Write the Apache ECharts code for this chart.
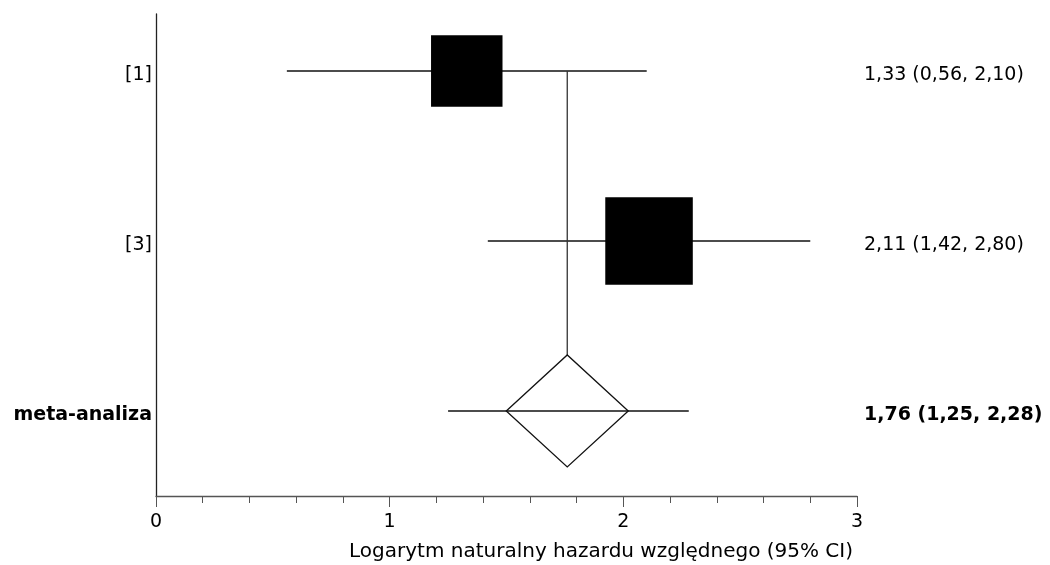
<!DOCTYPE html>
<html>
<head>
<meta charset="utf-8">
<script src="https://cdn.jsdelivr.net/npm/echarts@6/dist/echarts.min.js"></script>
<style>
  html, body { margin: 0; padding: 0; background: #fff; }
  #chart { width: 1050px; height: 565px; }
</style>
</head>
<body>
<div id="chart"></div>
<script>
// Forest plot: log hazard ratio per study and pooled estimate
const studies   = ['[1]', '[3]', 'meta-analiza'];
const estimates = [1.33, 2.11, 1.76];
const lowerCI   = [0.56, 1.42, 1.25];
const upperCI   = [2.10, 2.80, 2.28];
const weights   = [40, 60, null];          // study weights (%), null = pooled row
const xTickValues = [0, 1, 2, 3];
const axisTitle = 'Logarytm naturalny hazardu względnego (95% CI)';

const FONT = 'DejaVu Sans';
const FONT_SIZE = 19;
const LINE = '#111';
const AXIS = '#555';
const nRows = studies.length;
const yMax = nRows - 0.5 + 0.335;

function fmt(v) { return v.toFixed(2).replace('.', ','); }

const rows = studies.map((s, i) => [estimates[i], lowerCI[i], upperCI[i], i]);

function renderRow(params, api) {
  const i = api.value(3);
  const est = api.value(0), lo = api.value(1), hi = api.value(2);
  const yv = nRows - i - 0.5;
  const c = api.coord([est, yv]);
  const pLo = api.coord([lo, yv]);
  const pHi = api.coord([hi, yv]);
  const left = api.coord([xTickValues[0], yv])[0];
  const right = api.coord([xTickValues[xTickValues.length - 1], yv])[0];
  const pooled = weights[i] == null;
  const children = [];
  const ciLine = {
    type: 'line',
    shape: { x1: pLo[0], y1: c[1], x2: pHi[0], y2: c[1] },
    style: { stroke: LINE, lineWidth: 1.4 }
  };
  if (pooled) {
    const hw = 61, hh = 56;
    // vertical reference line from the first study row down to the diamond
    const top = api.coord([est, nRows - 0.5]);
    children.push({
      type: 'line',
      shape: { x1: c[0], y1: top[1], x2: c[0], y2: c[1] - hh },
      style: { stroke: '#333', lineWidth: 1.3 }
    });
    children.push({
      type: 'polygon',
      shape: { points: [[c[0] - hw, c[1]], [c[0], c[1] - hh], [c[0] + hw, c[1]], [c[0], c[1] + hh]] },
      style: { fill: '#fff', stroke: LINE, lineWidth: 1.3 }
    });
    children.push(ciLine);
  } else {
    const side = 11.3 * Math.sqrt(weights[i]);
    children.push(ciLine);
    children.push({
      type: 'rect',
      shape: { x: c[0] - side / 2, y: c[1] - side / 2, width: side, height: side },
      style: { fill: '#000' }
    });
  }
  const textY = c[1] + 4;
  children.push({
    type: 'text',
    style: {
      text: studies[i], x: left - 4, y: textY, align: 'right', verticalAlign: 'middle',
      fontFamily: FONT, fontSize: FONT_SIZE, fontWeight: pooled ? 'bold' : 'normal', fill: '#000'
    }
  });
  children.push({
    type: 'text',
    style: {
      text: fmt(est) + ' (' + fmt(lo) + ', ' + fmt(hi) + ')',
      x: right + 7, y: textY, align: 'left', verticalAlign: 'middle',
      fontFamily: FONT, fontSize: FONT_SIZE, fontWeight: pooled ? 'bold' : 'normal', fill: '#000'
    }
  });
  return { type: 'group', children: children };
}

const chart = echarts.init(document.getElementById('chart'), null, { renderer: 'canvas' });
chart.setOption({
  animation: false,
  backgroundColor: '#fff',
  grid: { left: 156, right: 193, top: 14, bottom: 69 },
  xAxis: {
    type: 'value',
    min: xTickValues[0],
    max: xTickValues[xTickValues.length - 1],
    interval: 1,
    axisLine: { show: true, onZero: false, lineStyle: { color: AXIS, width: 1.3 } },
    axisTick: { show: true, length: 11, lineStyle: { color: AXIS } },
    minorTick: { show: true, splitNumber: 5, length: 7, lineStyle: { color: AXIS } },
    splitLine: { show: false },
    minorSplitLine: { show: false },
    axisLabel: { fontFamily: FONT, fontSize: FONT_SIZE, color: '#000', margin: 17 }
  },
  yAxis: {
    type: 'value',
    min: 0,
    max: yMax,
    axisLine: { show: true, onZero: false, lineStyle: { color: '#222', width: 1.3 } },
    axisTick: { show: false },
    axisLabel: { show: false },
    splitLine: { show: false }
  },
  graphic: [{
    type: 'text',
    left: 349, top: 542,
    style: { text: axisTitle, fontFamily: FONT, fontSize: 20, fill: '#000' }
  }],
  series: [{
    type: 'custom',
    clip: false,
    renderItem: renderRow,
    encode: { x: [0, 1, 2] },
    data: rows
  }]
});
</script>
</body>
</html>
